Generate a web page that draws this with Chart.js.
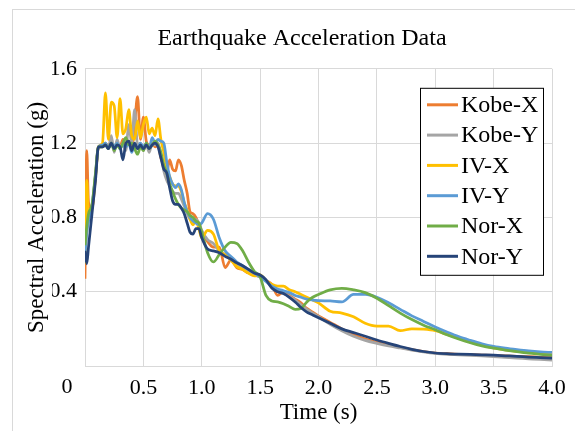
<!DOCTYPE html>
<html>
<head>
<meta charset="utf-8">
<script src="https://cdn.jsdelivr.net/npm/chart.js@4.4.1/dist/chart.umd.min.js"></script>
<style>
  html, body { margin: 0; padding: 0; background: #fff; }
  #wrap { position: relative; width: 575px; height: 431px; overflow: hidden; }
  #frame { position: absolute; left: 12px; top: 9px; right: -2px; bottom: -2px; border-left: 1px solid #d9d9d9; border-top: 1px solid #d9d9d9; }
  canvas { position: absolute; left: 0; top: 0; }
</style>
</head>
<body>
<div id="wrap"><div id="frame"></div><canvas id="myChart" width="575" height="431"></canvas></div>
<script>
const chartTitle = "Earthquake Acceleration Data";
const xTitle = "Time (s)";
const yTitle = "Spectral Acceleration (g)";
const seriesNames = ["Kobe-X", "Kobe-Y", "IV-X", "IV-Y", "Nor-X", "Nor-Y"];
const seriesColors = ["#ED7D31", "#A5A5A5", "#FFC000", "#5B9BD5", "#70AD47", "#264478"];

// period (s)
const time = [
  0, 0.015, 0.03, 0.06, 0.09, 0.115,
  0.15, 0.175, 0.2, 0.225, 0.25, 0.275, 0.3, 0.325, 0.35, 0.375,
  0.4, 0.425, 0.45, 0.475, 0.5, 0.525, 0.55, 0.575, 0.6, 0.625,
  0.65, 0.675, 0.7, 0.725, 0.75, 0.775, 0.8, 0.825, 0.85, 0.875,
  0.9, 0.925, 0.95, 0.975, 1.0,
  1.05, 1.1, 1.15, 1.2, 1.25, 1.3, 1.35, 1.4, 1.45, 1.5,
  1.55, 1.6, 1.65, 1.7, 1.75, 1.8, 1.85, 1.9, 1.95, 2.0,
  2.1, 2.2, 2.3, 2.4, 2.5, 2.6, 2.7, 2.8, 2.9, 3.0,
  3.1, 3.2, 3.3, 3.4, 3.5, 3.6, 3.7, 3.8, 3.9, 4.0
];

const kobeX = [
  0.47, 1.16, 0.88, 0.85, 1.02, 1.18,
  1.19, 1.20, 1.18, 1.21, 1.17, 1.20, 1.18, 1.22, 1.19, 1.21,
  1.18, 1.30, 1.45, 1.22, 1.34, 1.21, 1.19, 1.20, 1.18, 1.19,
  1.12, 1.08, 1.04, 1.11, 1.06, 1.05, 1.11, 1.08, 1.00, 0.93,
  0.83, 0.82, 0.80, 0.76, 0.72,
  0.67, 0.64, 0.64, 0.53, 0.57, 0.53, 0.52, 0.50, 0.49, 0.48,
  0.46, 0.44, 0.38, 0.40, 0.38, 0.36, 0.34, 0.31, 0.29, 0.27,
  0.235, 0.20, 0.17, 0.145, 0.128, 0.113, 0.10, 0.088, 0.078, 0.07,
  0.066, 0.063, 0.061, 0.059, 0.057, 0.055, 0.052, 0.05, 0.047, 0.045
];
const kobeY = [
  0.58, 0.72, 0.80, 0.86, 1.03, 1.18,
  1.18, 1.20, 1.17, 1.24, 1.15, 1.22, 1.17, 1.20, 1.16, 1.30,
  1.20, 1.38, 1.19, 1.20, 1.16, 1.19, 1.15, 1.20, 1.19, 1.20,
  1.14, 1.05, 1.00, 0.97, 0.94, 0.93, 0.93, 0.90, 0.86, 0.82,
  0.79, 0.78, 0.79, 0.77, 0.73,
  0.68, 0.66, 0.62, 0.60, 0.57, 0.55, 0.53, 0.51, 0.49, 0.48,
  0.46, 0.43, 0.41, 0.39, 0.375, 0.355, 0.33, 0.305, 0.285, 0.265,
  0.225, 0.19, 0.16, 0.138, 0.122, 0.108, 0.097, 0.086, 0.076, 0.068,
  0.063, 0.06, 0.057, 0.054, 0.051, 0.047, 0.043, 0.039, 0.035, 0.032
];
const ivX = [
  0.55, 1.00, 0.82, 0.85, 1.02, 1.18,
  1.20, 1.47, 1.22, 1.42, 1.40, 1.23, 1.44, 1.25, 1.28, 1.38,
  1.24, 1.22, 1.32, 1.23, 1.30, 1.34, 1.25, 1.28, 1.24, 1.33,
  1.22, 1.15, 1.07, 1.02, 0.98, 0.97, 0.97, 0.94, 0.88, 0.84,
  0.79, 0.76, 0.78, 0.74, 0.69,
  0.73, 0.71, 0.62, 0.60, 0.57, 0.535, 0.52, 0.50, 0.485, 0.49,
  0.46, 0.44, 0.43, 0.43, 0.41, 0.40, 0.385, 0.37, 0.355, 0.34,
  0.295, 0.285, 0.265, 0.23, 0.215, 0.215, 0.19, 0.20, 0.198, 0.19,
  0.17, 0.15, 0.13, 0.112, 0.097, 0.087, 0.079, 0.073, 0.068, 0.064
];
const ivY = [
  0.60, 0.72, 0.78, 0.86, 1.03, 1.18,
  1.19, 1.20, 1.17, 1.20, 1.18, 1.20, 1.17, 1.19, 1.18, 1.20,
  1.15, 1.19, 1.17, 1.20, 1.18, 1.20, 1.17, 1.23, 1.20, 1.22,
  1.21, 1.20, 1.10, 1.02, 0.98, 0.96, 0.98, 0.95, 0.88, 0.83,
  0.80, 0.78, 0.77, 0.76, 0.77,
  0.82, 0.79, 0.69, 0.62, 0.59, 0.56, 0.54, 0.52, 0.50, 0.48,
  0.455, 0.43, 0.415, 0.405, 0.395, 0.38, 0.37, 0.36, 0.355, 0.352,
  0.35, 0.345, 0.385, 0.385, 0.37, 0.34, 0.305, 0.27, 0.24, 0.21,
  0.183, 0.158, 0.138, 0.12, 0.106, 0.096, 0.088, 0.081, 0.076, 0.073
];
const norX = [
  0.65, 0.75, 0.82, 0.87, 1.04, 1.18,
  1.18, 1.19, 1.17, 1.20, 1.16, 1.19, 1.17, 1.20, 1.23, 1.19,
  1.20, 1.17, 1.14, 1.18, 1.16, 1.20, 1.17, 1.19, 1.21, 1.19,
  1.15, 1.08, 1.04, 0.98, 0.94, 0.90, 0.87, 0.85, 0.84, 0.83,
  0.81, 0.80, 0.78, 0.77, 0.72,
  0.61, 0.56, 0.60, 0.64, 0.665, 0.66, 0.62, 0.56, 0.51, 0.48,
  0.38, 0.35, 0.345, 0.335, 0.32, 0.305, 0.31, 0.345, 0.37, 0.385,
  0.41, 0.418, 0.41, 0.395, 0.365, 0.325, 0.285, 0.25, 0.22, 0.195,
  0.168, 0.145, 0.125, 0.108, 0.096, 0.086, 0.077, 0.069, 0.063, 0.057
];
const norY = [
  0.62, 0.55, 0.64, 0.82, 1.00, 1.18,
  1.18, 1.19, 1.17, 1.20, 1.17, 1.19, 1.18, 1.11, 1.20, 1.21,
  1.16, 1.20, 1.17, 1.19, 1.17, 1.19, 1.17, 1.19, 1.20, 1.18,
  1.12, 1.06, 1.04, 0.96, 0.89, 0.87, 0.87, 0.85, 0.82, 0.77,
  0.72, 0.71, 0.74, 0.74, 0.69,
  0.63, 0.62, 0.61, 0.59, 0.575, 0.555, 0.54, 0.52, 0.50, 0.49,
  0.465, 0.42, 0.40, 0.39, 0.37, 0.345, 0.315, 0.29, 0.275, 0.26,
  0.23, 0.20, 0.18, 0.16, 0.14, 0.122, 0.105, 0.09, 0.078, 0.07,
  0.066, 0.064, 0.062, 0.06, 0.058, 0.055, 0.052, 0.048, 0.045, 0.042
];
const seriesValues = [kobeX, kobeY, ivX, ivY, norX, norY];

const serif = "'Liberation Serif', 'Times New Roman', serif";
Chart.defaults.font.family = serif;
Chart.defaults.color = "#000";

const datasets = seriesValues.map((vals, i) => ({
  label: seriesNames[i],
  data: time.map((t, j) => ({ x: t, y: vals[j] })),
  borderColor: seriesColors[i],
  backgroundColor: seriesColors[i],
  borderWidth: 2.75,
  pointRadius: 0,
  fill: false,
  cubicInterpolationMode: "monotone",
  order: seriesValues.length - i,
}));

// boxed legend inside the plot, top right
const legendBox = {
  id: "legendBox",
  afterDatasetsDraw(chart) {
    const { ctx, chartArea } = chart;
    const w = 123, h = 187;
    const left = chartArea.right - w - 9;
    const top = chartArea.top + 19;
    ctx.save();
    ctx.fillStyle = "#fff";
    ctx.fillRect(left, top, w, h);
    ctx.strokeStyle = "#000";
    ctx.lineWidth = 1;
    ctx.strokeRect(left + 0.5, top + 0.5, w, h);
    ctx.font = "24px " + serif;
    ctx.textBaseline = "middle";
    ctx.textAlign = "left";
    chart.data.datasets.forEach((ds, i) => {
      const y = top + 17 + i * 30.3;
      ctx.strokeStyle = ds.borderColor;
      ctx.lineWidth = 3;
      ctx.beginPath();
      ctx.moveTo(left + 7, y);
      ctx.lineTo(left + 38, y);
      ctx.stroke();
      ctx.fillStyle = "#000";
      ctx.fillText(ds.label, left + 41, y + 1);
    });
    ctx.restore();
  },
};

// the origin "0" sits below-left of the corner, level with the time labels
const zeroLabel = {
  id: "zeroLabel",
  afterDraw(chart) {
    const { ctx, chartArea, scales } = chart;
    ctx.save();
    ctx.font = "22px " + serif;
    ctx.fillStyle = "#000";
    ctx.textAlign = "center";
    ctx.textBaseline = "top";
    ctx.fillText("0", chartArea.left - 18, scales.x.top + 10);
    ctx.restore();
  },
};

const gridColor = "#d9d9d9";
const ctx = document.getElementById("myChart");
new Chart(ctx, {
  type: "line",
  data: { datasets },
  options: {
    responsive: false,
    animation: false,
    devicePixelRatio: 1,
    layout: { padding: { left: 52, right: 23, top: 0, bottom: 4 } },
    plugins: {
      legend: { display: false },
      tooltip: { enabled: false },
      title: {
        display: true,
        text: chartTitle,
        color: "#000",
        font: { size: 24, weight: "normal" },
        padding: { top: 24, bottom: 16 },
      },
    },
    scales: {
      x: {
        type: "linear",
        min: 0,
        max: 4,
        grid: { color: gridColor, drawTicks: false },
        border: { color: gridColor },
        ticks: {
          stepSize: 0.5,
          autoSkip: false,
          maxRotation: 0,
          padding: 9,
          font: { size: 22 },
          callback: (v) => (v === 0 ? "" : v.toFixed(1)),
        },
        title: { display: true, text: xTitle, font: { size: 23 }, padding: { top: 0, bottom: 0 } },
        afterFit: (s) => { s.height = 61; },
      },
      y: {
        min: 0,
        max: 1.6,
        grid: { color: gridColor, drawTicks: false },
        border: { color: gridColor },
        ticks: {
          stepSize: 0.4,
          padding: 8,
          font: { size: 22 },
          callback: (v) => (v === 0 ? "" : v.toFixed(1)),
        },
        title: { display: true, text: yTitle, font: { size: 23 }, padding: { top: -29, bottom: 0 } },
        afterFit: (s) => { s.width = 33; },
      },
    },
  },
  plugins: [legendBox, zeroLabel],
});
</script>
</body>
</html>
